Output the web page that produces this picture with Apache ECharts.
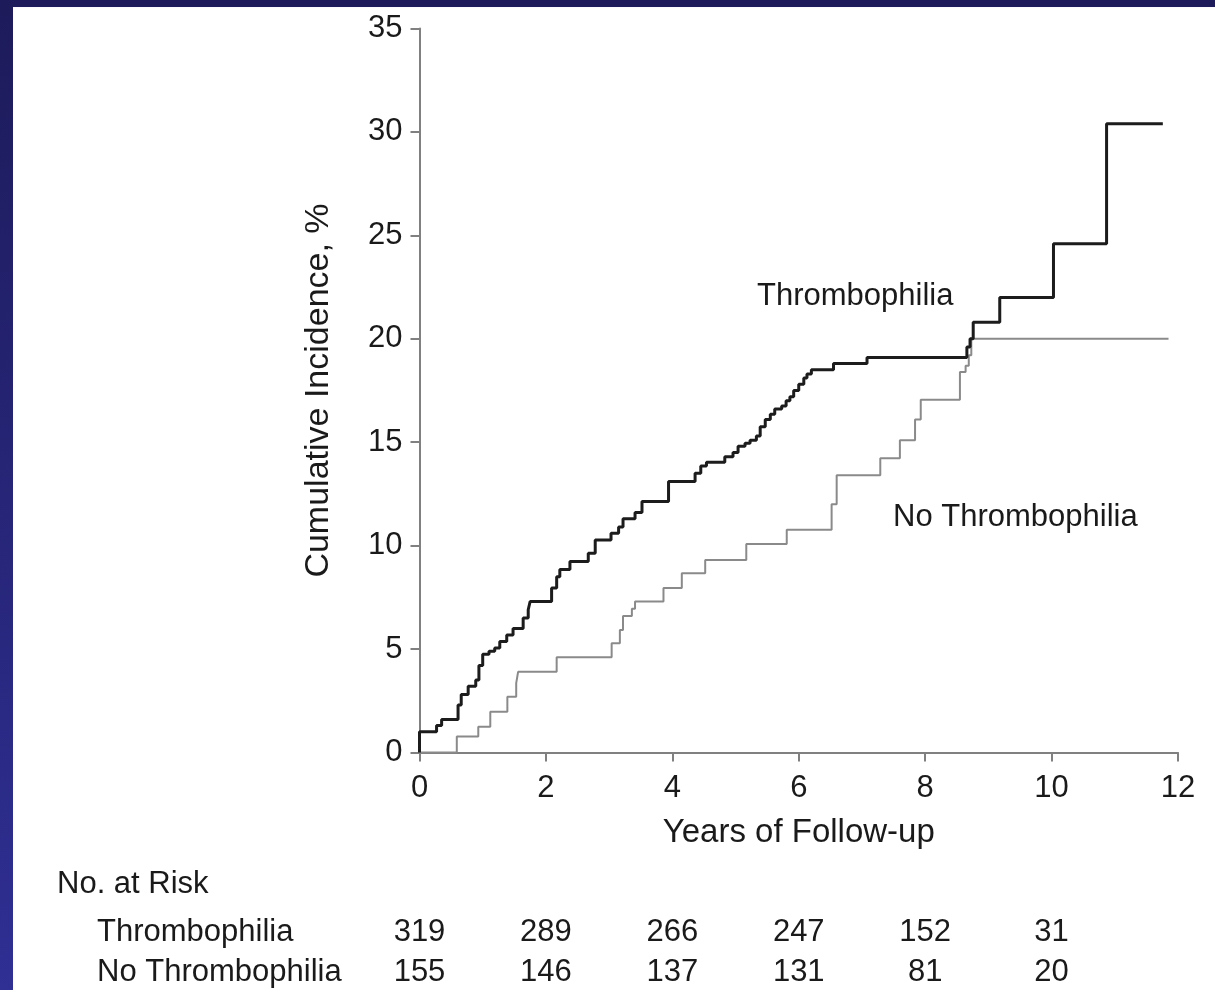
<!DOCTYPE html>
<html><head><meta charset="utf-8">
<script src="https://cdn.jsdelivr.net/npm/echarts@6/dist/echarts.min.js"></script>
<style>
html,body{margin:0;padding:0;background:#fff;overflow:hidden;}
#chart{position:absolute;left:0;top:0;width:1215px;height:990px;}
#topbar{position:absolute;left:0;top:0;width:1215px;height:7px;background:#1d1b5a;z-index:2}
#leftbar{position:absolute;left:0;top:0;width:13px;height:990px;background:linear-gradient(#1d1b5a,#2f2f94);z-index:2}
</style></head><body>
<div id="chart"></div><div id="topbar"></div><div id="leftbar"></div>
<script>
// Cumulative incidence (%) step data: [years, percent]
const thrombophilia = [[0,0],[0,1.0],[0.27,1.3],[0.35,1.6],[0.61,2.3],[0.66,2.8],[0.77,3.2],[0.89,3.5],[0.94,4.2],[1.0,4.75],[1.1,4.9],[1.19,5.05],[1.27,5.36],[1.38,5.68],[1.48,6.0],[1.64,6.5],[1.72,6.9],[1.75,7.3],[2.09,7.95],[2.17,8.5],[2.22,8.85],[2.38,9.23],[2.67,9.63],[2.78,10.27],[3.03,10.6],[3.15,10.9],[3.22,11.3],[3.41,11.6],[3.52,12.13],[3.94,13.1],[4.36,13.5],[4.45,13.85],[4.54,14.03],[4.83,14.3],[4.96,14.5],[5.04,14.8],[5.15,14.95],[5.23,15.1],[5.33,15.3],[5.39,15.75],[5.47,16.1],[5.55,16.35],[5.62,16.6],[5.73,16.75],[5.8,17.0],[5.86,17.2],[5.92,17.5],[6.0,17.8],[6.08,18.1],[6.13,18.3],[6.2,18.5],[6.55,18.8],[7.08,19.1],[8.66,19.6],[8.71,20.0],[8.76,20.8],[9.18,22.0],[10.03,24.6],[10.87,30.4],[11.76,30.4]];
const noThrombophilia = [[0,0],[0.59,0.77],[0.93,1.25],[1.12,1.97],[1.39,2.7],[1.53,3.35],[1.56,3.9],[2.17,4.6],[3.04,5.28],[3.17,5.92],[3.22,6.6],[3.36,6.95],[3.41,7.3],[3.86,7.95],[4.15,8.66],[4.52,9.31],[5.17,10.08],[5.81,10.77],[6.52,12.0],[6.6,13.4],[7.29,14.23],[7.6,15.1],[7.84,16.1],[7.93,17.05],[8.55,18.4],[8.64,18.7],[8.69,19.2],[8.73,20.0],[11.85,20.0]];
const seriesNames = ['Thrombophilia','No Thrombophilia'];
const riskTimes = [0,2,4,6,8,10];
const riskThrombophilia = [319,289,266,247,152,31];
const riskNoThrombophilia = [155,146,137,131,81,20];
const xTitle = 'Years of Follow-up';
const yTitle = 'Cumulative Incidence, %';
const riskTitle = 'No. at Risk';

const FONT = "'Liberation Sans', Arial, Helvetica, sans-serif";
const TXT = '#1a1a1a';
const AX = '#808080';
const chart = echarts.init(document.getElementById('chart'), null, {renderer:'canvas'});

function axisCommon(){
  return {
    nameLocation:'middle',
    nameTextStyle:{fontSize:33,color:TXT,fontFamily:FONT},
    axisLine:{show:true,lineStyle:{color:AX,width:2}},
    axisTick:{show:true,length:9,lineStyle:{color:AX,width:2}},
    axisLabel:{fontSize:31,color:TXT,fontFamily:FONT},
    splitLine:{show:false}
  };
}
const xA = Object.assign(axisCommon(),{type:'value',min:0,max:12,interval:2,name:xTitle,nameGap:64});
xA.axisLabel.margin = 20;
const yA = Object.assign(axisCommon(),{type:'value',min:0,max:35,interval:5,name:yTitle,nameGap:84,nameRotate:90});
yA.nameTextStyle.fontSize = 34;
yA.axisLabel.margin = 17;

chart.setOption({
  animation:false,
  backgroundColor:'#ffffff',
  grid:{left:419.5,right:37,top:28.5,bottom:237.5,containLabel:false},
  xAxis:xA,
  yAxis:yA,
  series:[
    {name:seriesNames[1],type:'line',step:'end',data:noThrombophilia,showSymbol:false,
     lineStyle:{color:'#8a8a8a',width:2},z:2},
    {name:seriesNames[0],type:'line',step:'end',data:thrombophilia,showSymbol:false,
     lineStyle:{color:'#1c1c1c',width:3},z:3}
  ]
});

function txt(x,y,s,align){
  return {type:'text',x:x,y:y,style:{text:String(s),fontSize:31,fontFamily:FONT,fill:TXT,align:align||'left',verticalAlign:'middle'}};
}
const g = [];
g.push(txt(757,296,seriesNames[0]));
g.push(txt(893,517,seriesNames[1]));
g.push(txt(57,884,riskTitle));
g.push(txt(97,932,seriesNames[0]));
g.push(txt(97,972,seriesNames[1]));
riskTimes.forEach((t,i)=>{
  const px = chart.convertToPixel({xAxisIndex:0},t);
  g.push(txt(px,932,riskThrombophilia[i],'center'));
  g.push(txt(px,972,riskNoThrombophilia[i],'center'));
});
chart.setOption({graphic:g});
</script>
</body></html>
